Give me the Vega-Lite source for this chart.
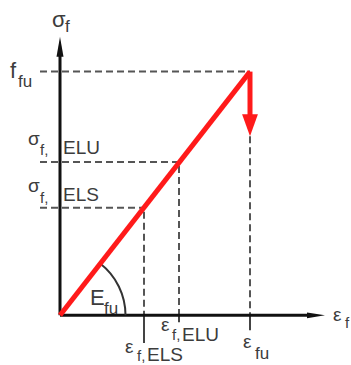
{
  "$schema": "https://vega.github.io/schema/vega-lite/v6.json",
  "width": 351,
  "height": 365,
  "padding": 0,
  "autosize": {"type": "fit", "contains": "padding"},
  "background": "white",
  "config": {"view": {"stroke": null}, "text": {"font": "Liberation Sans"}},
  "datasets": {
    "lines": [
      {"kind": "guide", "x": -20, "y": 245, "x2": 190, "y2": 245},
      {"kind": "guide", "x": -20, "y": 154, "x2": 119, "y2": 154},
      {"kind": "guide", "x": -20, "y": 108, "x2": 84, "y2": 108},
      {"kind": "guide", "x": 84, "y": 104, "x2": 84, "y2": 0},
      {"kind": "guide", "x": 119, "y": 150, "x2": 119, "y2": 0},
      {"kind": "guide", "x": 190, "y": 180, "x2": 190, "y2": 0},
      {"kind": "tick", "x": 84, "y": 0, "x2": 84, "y2": -28},
      {"kind": "tick", "x": 119, "y": 0, "x2": 119, "y2": -7},
      {"kind": "tick", "x": 190, "y": 0, "x2": 190, "y2": -15},
      {"kind": "axis", "x": 0, "y": 0, "x2": 0, "y2": 262},
      {"kind": "axis", "x": 0, "y": 0, "x2": 250, "y2": 0},
      {"kind": "red", "x": 0, "y": 0, "x2": 190, "y2": 245},
      {"kind": "red", "x": 190, "y": 245, "x2": 190, "y2": 196}
    ],
    "arrows": [
      {"dir": "up", "x": 0, "y": 270},
      {"dir": "right", "x": 256, "y": 0},
      {"dir": "down", "x": 190, "y": 191}
    ],
    "origin": [{"x": 0, "y": 0}],
    "labels": [
      {"t": "σ", "x": -8, "y": 290, "role": "large"},
      {"t": "f", "x": 5, "y": 285, "role": "sub2"},
      {"t": "f", "x": -50, "y": 239, "role": "large"},
      {"t": "fu", "x": -42, "y": 230, "role": "sub2"},
      {"t": "σ", "x": -32, "y": 171, "role": "main"},
      {"t": "f,", "x": -20, "y": 161, "role": "sub"},
      {"t": "ELU", "x": 3, "y": 162, "role": "main"},
      {"t": "σ", "x": -32, "y": 124, "role": "main"},
      {"t": "f,", "x": -20, "y": 113, "role": "sub"},
      {"t": "ELS", "x": 3, "y": 115, "role": "main"},
      {"t": "E", "x": 30, "y": 10, "role": "large"},
      {"t": "fu", "x": 44, "y": 1, "role": "sub2"},
      {"t": "ε", "x": 273, "y": -6, "role": "main"},
      {"t": "f", "x": 285, "y": -13, "role": "sub"},
      {"t": "ε", "x": 101, "y": -16, "role": "main"},
      {"t": "f,", "x": 112, "y": -25, "role": "sub"},
      {"t": "ELU", "x": 122, "y": -26, "role": "main"},
      {"t": "ε", "x": 65, "y": -38, "role": "main"},
      {"t": "f,", "x": 77, "y": -46, "role": "sub"},
      {"t": "ELS", "x": 87, "y": -46, "role": "main"},
      {"t": "ε", "x": 183, "y": -33, "role": "main"},
      {"t": "fu", "x": 195, "y": -44, "role": "sub2"}
    ]
  },
  "layer": [
    {
      "data": {"name": "lines"},
      "transform": [{"filter": "datum.kind === 'guide'"}],
      "mark": {"type": "rule", "color": "#555555", "strokeWidth": 2, "strokeDash": [7, 4]},
      "encoding": {
        "x": {"field": "x", "type": "quantitative", "scale": {"domain": [-60, 291], "nice": false, "zero": false}, "axis": null},
        "y": {"field": "y", "type": "quantitative", "scale": {"domain": [-48, 317], "nice": false, "zero": false}, "axis": null},
        "x2": {"field": "x2"},
        "y2": {"field": "y2"}
      }
    },
    {
      "data": {"name": "lines"},
      "transform": [{"filter": "datum.kind === 'tick'"}],
      "mark": {"type": "rule", "color": "#444444", "strokeWidth": 2},
      "encoding": {
        "x": {"field": "x", "type": "quantitative", "scale": {"domain": [-60, 291], "nice": false, "zero": false}, "axis": null},
        "y": {"field": "y", "type": "quantitative", "scale": {"domain": [-48, 317], "nice": false, "zero": false}, "axis": null},
        "x2": {"field": "x2"},
        "y2": {"field": "y2"}
      }
    },
    {
      "data": {"name": "lines"},
      "transform": [{"filter": "datum.kind === 'axis'"}],
      "mark": {"type": "rule", "color": "#111111", "strokeWidth": 3},
      "encoding": {
        "x": {"field": "x", "type": "quantitative", "scale": {"domain": [-60, 291], "nice": false, "zero": false}, "axis": null},
        "y": {"field": "y", "type": "quantitative", "scale": {"domain": [-48, 317], "nice": false, "zero": false}, "axis": null},
        "x2": {"field": "x2"},
        "y2": {"field": "y2"}
      }
    },
    {
      "data": {"name": "origin"},
      "mark": {"type": "arc", "color": "#333333", "outerRadius": 66.5, "innerRadius": 64.5, "theta": 0.66, "theta2": 1.5708},
      "encoding": {
        "x": {"field": "x", "type": "quantitative", "scale": {"domain": [-60, 291], "nice": false, "zero": false}, "axis": null},
        "y": {"field": "y", "type": "quantitative", "scale": {"domain": [-48, 317], "nice": false, "zero": false}, "axis": null}
      }
    },
    {
      "data": {"name": "lines"},
      "transform": [{"filter": "datum.kind === 'red'"}],
      "mark": {"type": "rule", "color": "#ff1a1a", "strokeWidth": 5},
      "encoding": {
        "x": {"field": "x", "type": "quantitative", "scale": {"domain": [-60, 291], "nice": false, "zero": false}, "axis": null},
        "y": {"field": "y", "type": "quantitative", "scale": {"domain": [-48, 317], "nice": false, "zero": false}, "axis": null},
        "x2": {"field": "x2"},
        "y2": {"field": "y2"}
      }
    },
    {
      "data": {"name": "arrows"},
      "transform": [{"filter": "datum.dir === 'up'"}],
      "mark": {"type": "point", "filled": true, "color": "#111111", "opacity": 1, "size": 400, "shape": "M0,-1L0.35,1L-0.35,1Z"},
      "encoding": {
        "x": {"field": "x", "type": "quantitative", "scale": {"domain": [-60, 291], "nice": false, "zero": false}, "axis": null},
        "y": {"field": "y", "type": "quantitative", "scale": {"domain": [-48, 317], "nice": false, "zero": false}, "axis": null}
      }
    },
    {
      "data": {"name": "arrows"},
      "transform": [{"filter": "datum.dir === 'right'"}],
      "mark": {"type": "point", "filled": true, "color": "#111111", "opacity": 1, "size": 324, "shape": "M1,0L-1,0.32L-1,-0.32Z"},
      "encoding": {
        "x": {"field": "x", "type": "quantitative", "scale": {"domain": [-60, 291], "nice": false, "zero": false}, "axis": null},
        "y": {"field": "y", "type": "quantitative", "scale": {"domain": [-48, 317], "nice": false, "zero": false}, "axis": null}
      }
    },
    {
      "data": {"name": "arrows"},
      "transform": [{"filter": "datum.dir === 'down'"}],
      "mark": {"type": "point", "filled": true, "color": "#ff1a1a", "opacity": 1, "size": 484, "shape": "M0,1L0.72,-1L-0.72,-1Z"},
      "encoding": {
        "x": {"field": "x", "type": "quantitative", "scale": {"domain": [-60, 291], "nice": false, "zero": false}, "axis": null},
        "y": {"field": "y", "type": "quantitative", "scale": {"domain": [-48, 317], "nice": false, "zero": false}, "axis": null}
      }
    },
    {
      "data": {"name": "labels"},
      "transform": [{"filter": "datum.role === 'large'"}],
      "mark": {"type": "text", "align": "left", "baseline": "alphabetic", "fontSize": 22, "color": "#3c3c3c"},
      "encoding": {
        "x": {"field": "x", "type": "quantitative", "scale": {"domain": [-60, 291], "nice": false, "zero": false}, "axis": null},
        "y": {"field": "y", "type": "quantitative", "scale": {"domain": [-48, 317], "nice": false, "zero": false}, "axis": null},
        "text": {"field": "t"}
      }
    },
    {
      "data": {"name": "labels"},
      "transform": [{"filter": "datum.role === 'main'"}],
      "mark": {"type": "text", "align": "left", "baseline": "alphabetic", "fontSize": 19, "color": "#3c3c3c"},
      "encoding": {
        "x": {"field": "x", "type": "quantitative", "scale": {"domain": [-60, 291], "nice": false, "zero": false}, "axis": null},
        "y": {"field": "y", "type": "quantitative", "scale": {"domain": [-48, 317], "nice": false, "zero": false}, "axis": null},
        "text": {"field": "t"}
      }
    },
    {
      "data": {"name": "labels"},
      "transform": [{"filter": "datum.role === 'sub'"}],
      "mark": {"type": "text", "align": "left", "baseline": "alphabetic", "fontSize": 15, "color": "#3c3c3c"},
      "encoding": {
        "x": {"field": "x", "type": "quantitative", "scale": {"domain": [-60, 291], "nice": false, "zero": false}, "axis": null},
        "y": {"field": "y", "type": "quantitative", "scale": {"domain": [-48, 317], "nice": false, "zero": false}, "axis": null},
        "text": {"field": "t"}
      }
    },
    {
      "data": {"name": "labels"},
      "transform": [{"filter": "datum.role === 'sub2'"}],
      "mark": {"type": "text", "align": "left", "baseline": "alphabetic", "fontSize": 17, "color": "#3c3c3c"},
      "encoding": {
        "x": {"field": "x", "type": "quantitative", "scale": {"domain": [-60, 291], "nice": false, "zero": false}, "axis": null},
        "y": {"field": "y", "type": "quantitative", "scale": {"domain": [-48, 317], "nice": false, "zero": false}, "axis": null},
        "text": {"field": "t"}
      }
    }
  ]
}
